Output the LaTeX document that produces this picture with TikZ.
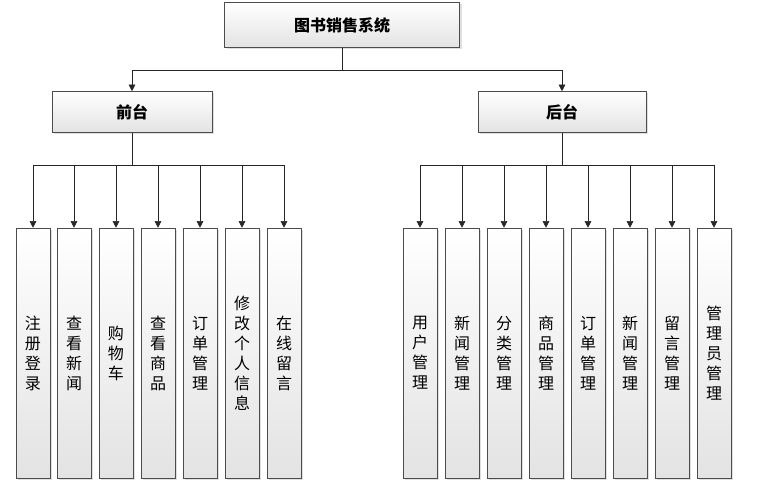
\documentclass[tikz,border=0pt]{standalone}
\usepackage{fontspec}
\setmainfont{Noto Sans CJK SC}
\usetikzlibrary{shadows,arrows.meta}

\tikzset{
  box/.style={draw=gray!60!black, top color=white, bottom color=gray!22, drop shadow={opacity=0.25,shadow xshift=1.5pt,shadow yshift=-1.5pt}, inner sep=0pt},
  leaf/.style={box, minimum width=34*0.75pt, minimum height=250*0.75pt, align=center, font=\fontsize{12}{15}\selectfont},
  arr/.style={-{Triangle[length=5pt,width=5pt]}, gray!30!black},
  link/.style={gray!30!black}
}

\begin{document}
\begin{tikzpicture}[x=0.75pt, y=-0.75pt]
\useasboundingbox (0,0) rectangle (769,499);

% Top levels
\node[box, minimum width=235*0.75pt, minimum height=45*0.75pt, font=\fontsize{12}{14}\selectfont\bfseries] (root) at (342,25) {图书销售系统};
\node[box, minimum width=160*0.75pt, minimum height=41*0.75pt, font=\fontsize{12}{14}\selectfont\bfseries] (front) at (132,112) {前台};
\node[box, minimum width=168*0.75pt, minimum height=41*0.75pt, font=\fontsize{12}{14}\selectfont\bfseries] (back) at (562,112) {后台};

\coordinate (rj) at (342,70);
\draw[link] (root.south) -- (rj);
\draw[arr] (rj) -| (front.north);
\draw[arr] (rj) -| (back.north);

% Front leaves
\coordinate (fj) at (132,165);
\draw[link] (front.south) -- (fj);
\foreach \x/\t [count=\i] in {33/注\\册\\登\\录, 74/查\\看\\新\\闻, 116/购\\物\\车, 158/查\\看\\商\\品, 200/订\\单\\管\\理, 242/修\\改\\个\\人\\信\\息, 284/在\\线\\留\\言} {
  \node[leaf] (f\i) at (\x,353) {\t};
  \draw[arr] (fj) -| (f\i.north);
}

% Back leaves
\coordinate (bj) at (562,165);
\draw[link] (back.south) -- (bj);
\foreach \x/\t [count=\i] in {420/用\\户\\管\\理, 462/新\\闻\\管\\理, 504/分\\类\\管\\理, 546/商\\品\\管\\理, 588/订\\单\\管\\理, 630/新\\闻\\管\\理, 672/留\\言\\管\\理, 714/管\\理\\员\\管\\理} {
  \node[leaf] (b\i) at (\x,353) {\t};
  \draw[arr] (bj) -| (b\i.north);
}

\end{tikzpicture}
\end{document}
